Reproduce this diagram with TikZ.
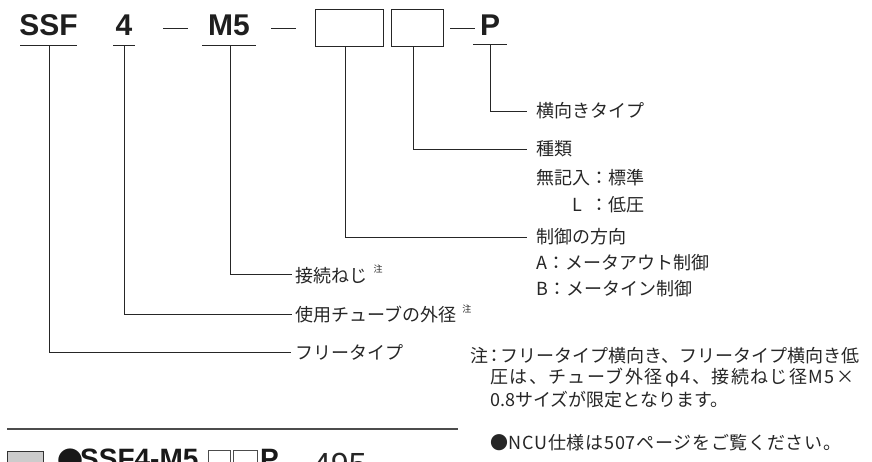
\documentclass[tikz,border=0pt]{standalone}
\usepackage{fontspec}
\setmainfont{Noto Sans CJK JP}
\newfontfamily\latinbold{Liberation Sans}[BoldFont={Liberation Sans Bold}]
\begin{document}
\begin{tikzpicture}[x=1pt,y=-1pt,
  ink/.style={draw=black!85, line width=0.9pt},
  code/.style={font=\latinbold\fontsize{30}{30}\selectfont\bfseries, text=black!88, inner sep=0pt, anchor=base},
  lbl/.style={font=\fontsize{18}{18}\selectfont, text=black!85, inner sep=0pt, anchor=west},
  blank/.style={draw=black!85, line width=0.9pt, minimum width=#1, minimum height=37pt, inner sep=0pt, anchor=north west},
]
\useasboundingbox (0,0) rectangle (872,461);
\clip (0,0) rectangle (872,461);
\fill[white] (0,0) rectangle (872,461);

% top row
\node[code] (ssf) at (48.5,35) {SSF};
\node[code] (four) at (124,35) {4};
\node[code] (m5) at (229,35) {M5};
\node[code] (p) at (490,35) {P};
\node[blank=68pt] (b1) at (315,9) {};
\node[blank=52pt] (b2) at (391,9) {};
\coordinate (d1a) at (163,28); \coordinate (d1b) at (188,28);
\coordinate (d2a) at (271,28); \coordinate (d2b) at (296,28);
\coordinate (d3a) at (450,28); \coordinate (d3b) at (475,28);
\draw[ink] (d1a) -- (d1b);
\draw[ink] (d2a) -- (d2b);
\draw[ink] (d3a) -- (d3b);

% underlines
\coordinate (u1a) at (20,45.5); \coordinate (u1b) at (77,45.5); \coordinate (u1) at (49,45.5);
\coordinate (u2a) at (113,45.5); \coordinate (u2b) at (135,45.5); \coordinate (u2) at (124,45.5);
\coordinate (u3a) at (202,45.5); \coordinate (u3b) at (256,45.5); \coordinate (u3) at (230,45.5);
\coordinate (u4a) at (473,44.5); \coordinate (u4b) at (507,44.5); \coordinate (u4) at (490,44.5);
\draw[ink] (u1a) -- (u1b);
\draw[ink] (u2a) -- (u2b);
\draw[ink] (u3a) -- (u3b);
\draw[ink] (u4a) -- (u4b);
\coordinate (u5) at (345,46);
\coordinate (u6) at (413,46);

% labels
\node[lbl] (lp) at (536,111) {横向きタイプ};
\node[lbl] (lk) at (536,149) {種類};
\node[lbl] (lk1) at (536,178) {無記入：標準};
\node[lbl] (lk2) at (536,205) {\makebox[3em][r]{L\hspace{0.45em}}：低圧};
\node[lbl] (lc) at (536,237) {制御の方向};
\node[lbl] (lc1) at (536,263) {A：メータアウト制御};
\node[lbl] (lc2) at (536,289) {B：メータイン制御};
\node[lbl] (lm) at (295,274) {接続ねじ\hspace{0.35em}\raisebox{0.55em}{\fontsize{9}{9}\selectfont 注}};
\node[lbl] (lt) at (295,314) {使用チューブの外径\hspace{0.35em}\raisebox{0.55em}{\fontsize{9}{9}\selectfont 注}};
\node[lbl] (lf) at (295,352) {フリータイプ};

\coordinate (e6) at (527,111);
\coordinate (e5) at (527,149);
\coordinate (e4) at (527,237);
\coordinate (e3) at (292,274);
\coordinate (e2) at (292,314);
\coordinate (e1) at (291,352);
\draw[ink] (u4) |- (e6);
\draw[ink] (u6) |- (e5);
\draw[ink] (u5) |- (e4);
\draw[ink] (u3) |- (e3);
\draw[ink] (u2) |- (e2);
\draw[ink] (u1) |- (e1);

% notes
\node[lbl] (n1) at (470,356) {注\makebox[0.7em][c]{：}フリータイプ横向き、フリータイプ横向き低};
\node[lbl] (n2) at (490,378) {\addfontfeature{LetterSpace=8}圧は、チューブ外径\,φ4、接続ねじ径M5×};
\node[lbl] (n3) at (490,400) {0.8サイズが限定となります。};
\node[lbl] (n4) at (490,443) {\addfontfeature{LetterSpace=4}●NCU仕様は507ページをご覧ください。};

% bottom (cut off)
\coordinate (hl1) at (7,429); \coordinate (hl2) at (458,429);
\draw[draw=black!70, line width=1.2pt] (hl1) -- (hl2);
\node[draw=black!80, fill=black!20, line width=0.9pt, minimum width=36pt, minimum height=30pt, inner sep=0pt, anchor=north west] (gbox) at (7,451) {};
\node[font=\fontsize{26}{26}\selectfont, text=black!90, inner sep=0pt, anchor=north west] (bdot) at (57,449) {●};
\node[font=\latinbold\fontsize{28}{28}\selectfont\bfseries, text=black!90, inner sep=0pt, anchor=north west] (bcode) at (80,449) {SSF4-M5};
\node[draw=black!70, line width=0.7pt, minimum width=22pt, minimum height=30pt, inner sep=0pt, anchor=north west] (bb1) at (208,450) {};
\node[draw=black!70, line width=0.7pt, minimum width=24pt, minimum height=30pt, inner sep=0pt, anchor=north west] (bb2) at (233,450) {};
\node[font=\latinbold\fontsize{28}{28}\selectfont\bfseries, text=black!90, inner sep=0pt, anchor=north west] (bp) at (260,449) {P};
\node[font=\latinbold\fontsize{32}{32}\selectfont, text=black!85, inner sep=0pt, anchor=north west] (b495) at (313,453) {495};
\end{tikzpicture}
\end{document}
